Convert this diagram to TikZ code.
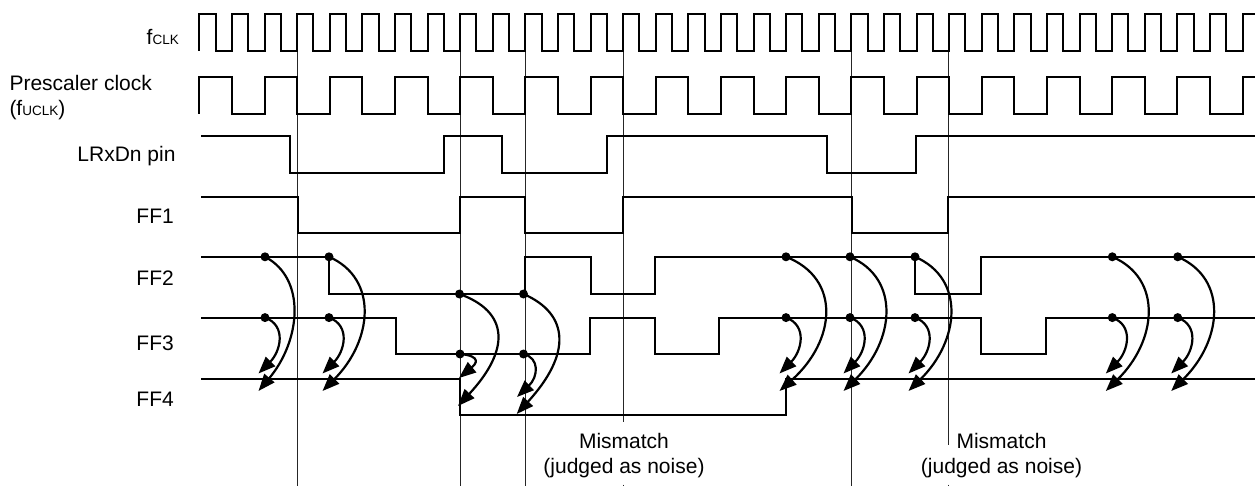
\documentclass[tikz,border=0pt]{standalone}
\usepackage{fontspec}
\setmainfont{Liberation Sans}
\usetikzlibrary{arrows.meta}

\begin{document}
\begin{tikzpicture}[
  x=1pt, y=-1pt,
  %% style definitions
  sig/.style    = {line width=2pt, line join=miter},
  guide/.style  = {line width=1pt, black!85},
  dot/.style    = {circle, fill=black, inner sep=0pt, minimum size=9pt},
  follow/.style = {line width=2.2pt, -{Triangle[length=17pt,width=13pt]}},
  lbl/.style    = {anchor=base east, inner sep=0pt, font=\fontsize{21}{25}\selectfont},
  note/.style   = {align=center, inner sep=0pt, font=\fontsize{21}{25}\selectfont},
]
\newcommand{\subtxt}[1]{{\fontsize{13.5}{16}\selectfont #1}}
\useasboundingbox (0,0) rectangle (1255,486);

%% -- Guide lines ------------------------------------------------------------
\foreach \id/\x/\yend in {a/297.5/486, b/460.5/486, c/525.5/486, d/623.5/422, e/851.5/486, f/948.5/445} {
  \coordinate (gtop\id) at (\x,51);
  \coordinate (gbot\id) at (\x,\yend);
  \draw[guide] (gtop\id) -- (gbot\id);
}
\draw[guide] (623.5,484.5) -- (623.5,486);
\draw[guide] (948.5,484.5) -- (948.5,486);

%% -- Clocks -----------------------------------------------------------------
\draw[sig] (199.3,51) foreach \k in {0,...,31} {
    -- ++(0,-37) -- ++(16.3,0) -- ++(0,37) -- ++(16.3,0)
  } -- ++(0,-37) -- (1255,14);
\draw[sig] (199.3,114) foreach \k in {0,...,15} {
    -- ++(0,-37) -- ++(32.6,0) -- ++(0,37) -- ++(32.6,0)
  } -- ++(0,-37) -- (1255,77);

%% -- Signals ----------------------------------------------------------------
\draw[sig] (201,136) -| (290,173) -| (444,136) -| (502,173) -| (607,136)
  -| (827,173) -| (916,136) -- (1255,136);
\draw[sig] (201,197) -| (298,233) -| (460,197) -| (525,233) -| (623,197)
  -| (852,233) -| (948,197) -- (1255,197);
\draw[sig] (201,257) -| (329,294) -| (525,257) -| (591,294) -| (655,257)
  -| (915,294) -| (981,257) -- (1255,257);
\draw[sig] (201,318) -| (396,354) -| (590,318) -| (655,354) -| (719,318)
  -| (981,354) -| (1046,318) -- (1255,318);
\draw[sig] (201,379) -| (460,415) -| (786,379) -- (1255,379);

%% -- Sampling dots and arrows -----------------------------------------------
\foreach \id/\x/\cx in {a/265/42, b/329/50, c/786/56, d/850/51, e/915/51, f/1112.3/51, g/1177.7/51} {
  \node[dot] (hi\id) at (\x,256.8) {};
  \node[dot] (lo\id) at (\x,317.6) {};
  \coordinate (hitip\id) at (\x-6.5,391);
  \coordinate (lotip\id) at (\x-6.5,373.5);
  \draw[follow] (hi\id.center) .. controls +(\cx,22) and +(\cx,-50) .. (hitip\id);
  \draw[follow] (lo\id.center) .. controls +(22,8) and +(22,-22) .. (lotip\id);
}

\node[dot] (hih) at (459.5,294) {};
\node[dot] (hii) at (523.5,294) {};
\node[dot] (loh) at (460,354) {};
\node[dot] (loi) at (523.5,354) {};
\coordinate (hitiph) at (458,406);
\coordinate (hitipi) at (516.7,414);
\coordinate (lotiph) at (459,378);
\coordinate (lotipi) at (517,397);
\draw[follow] (hih.center) .. controls +(50,18) and +(52,-56) .. (hitiph);
\draw[follow] (hii.center) .. controls +(46,20) and +(55,-60) .. (hitipi);
\draw[follow] (loh.center) .. controls +(22,2) and +(17,-14) .. (lotiph);
\draw[follow] (loi.center) .. controls +(16.5,4) and +(21,-20) .. (lotipi);

%% -- Labels -----------------------------------------------------------------
\node[lbl] (lclk)  at (179,45)    {f\subtxt{CLK}};
\node[lbl, anchor=base west] (lpre) at (9.3,91) {Prescaler clock};
\node[lbl, anchor=base west] (lucl) at (9.3,116) {(f\subtxt{UCLK})};
\node[lbl] (lrxd)  at (175.7,162) {LRxDn pin};
\node[lbl] (lff1)  at (174,224)   {FF1};
\node[lbl] (lff2)  at (174,285.7) {FF2};
\node[lbl] (lff3)  at (174,350)   {FF3};
\node[lbl] (lff4)  at (174,406.7) {FF4};

\node[note] (mism)  at (624,455.5)  {Mismatch\\(judged as noise)};
\node[note] (misn)  at (1001.5,455.5) {Mismatch\\(judged as noise)};

\end{tikzpicture}
\end{document}
